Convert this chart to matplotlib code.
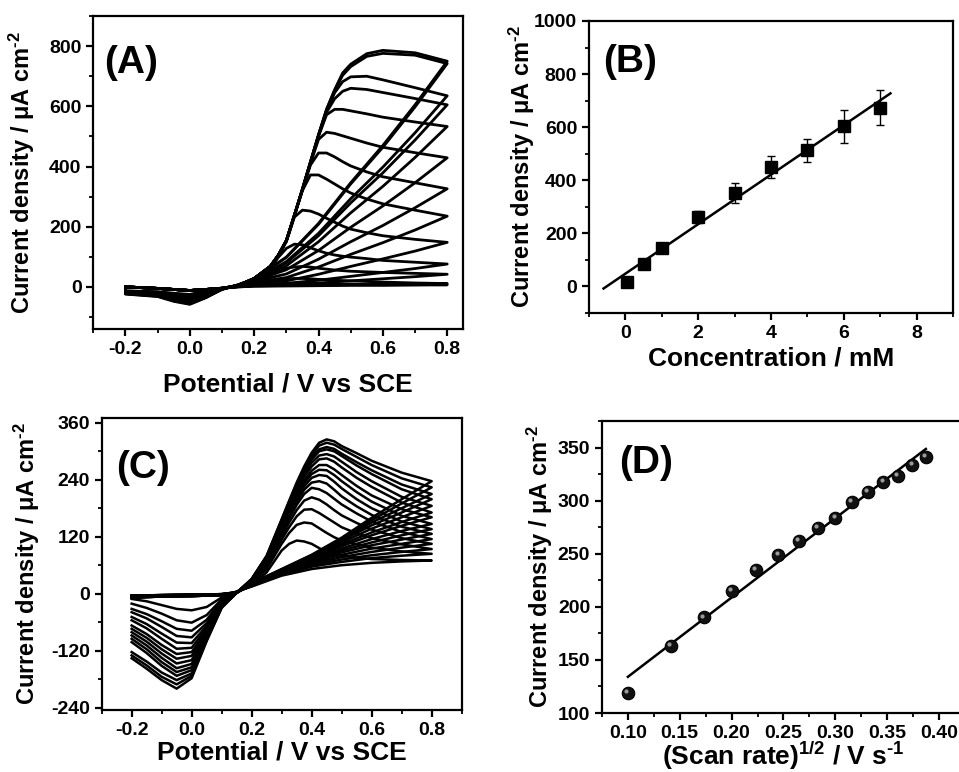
import numpy as np
import matplotlib
matplotlib.use('Agg')
import matplotlib.pyplot as plt
from matplotlib.ticker import MultipleLocator, FormatStrFormatter
from matplotlib.transforms import offset_copy

plt.rcParams['font.family'] = ['Liberation Sans', 'DejaVu Sans']
plt.rcParams['font.weight'] = 'bold'
plt.rcParams['axes.labelweight'] = 'bold'
plt.rcParams['axes.unicode_minus'] = False
plt.rcParams['mathtext.fontset'] = 'custom'
plt.rcParams['mathtext.rm'] = 'Liberation Sans:bold'
plt.rcParams['mathtext.it'] = 'Liberation Sans:bold'
plt.rcParams['mathtext.default'] = 'rm'

# ---- (A) CVs for increasing concentration (uA cm-2) ----
pot_fwd_a = [-0.2, -0.1, 0.0, 0.1, 0.15, 0.2, 0.25, 0.275, 0.3, 0.325, 0.35, 0.375,
             0.4, 0.425, 0.45, 0.475, 0.5, 0.55, 0.6, 0.7, 0.8]
pot_rev_a = [0.8, 0.7, 0.6, 0.5, 0.4, 0.3, 0.2, 0.15, 0.1, 0.05, 0.0, -0.05, -0.1, -0.2]
fwd_a = [
    [0, -5, -12, -5, 1, 5, 8, 9, 10, 11, 11, 11, 10, 10, 9, 9, 9, 8, 8, 8, 7],
    [0, -5, -12, -5, 2, 10, 20, 24, 27, 28, 28, 27, 25, 24, 22, 21, 20, 18, 16, 13, 11],
    [0, -5, -12, -5, 3, 18, 42, 54, 62, 66, 68, 66, 62, 59, 56, 54, 52, 50, 48, 45, 42],
    [0, -5, -12, -5, 4, 24, 62, 98, 128, 142, 140, 130, 120, 112, 106, 102, 99, 94, 88, 82, 76],
    [0, -5, -12, -5, 4, 26, 66, 104, 150, 232, 255, 252, 242, 228, 215, 202, 192, 180, 170, 158, 148],
    [0, -5, -12, -5, 4, 27, 67, 105, 152, 236, 320, 372, 372, 358, 342, 326, 312, 292, 276, 255, 235],
    [0, -5, -12, -5, 5, 28, 68, 105, 153, 237, 322, 405, 445, 445, 432, 416, 402, 382, 366, 346, 326],
    [0, -5, -12, -5, 5, 28, 68, 105, 153, 238, 323, 410, 490, 514, 510, 502, 494, 478, 464, 446, 429],
    [0, -5, -12, -5, 5, 28, 68, 105, 154, 238, 324, 413, 500, 572, 590, 590, 585, 575, 564, 548, 533],
    [0, -5, -12, -5, 5, 28, 68, 105, 154, 238, 325, 415, 503, 580, 625, 650, 660, 656, 646, 626, 605],
    [0, -5, -12, -5, 5, 28, 68, 105, 154, 238, 325, 415, 505, 585, 645, 682, 698, 700, 688, 662, 635],
    [0, -5, -12, -5, 5, 28, 68, 105, 154, 238, 325, 415, 505, 590, 652, 703, 732, 766, 776, 770, 742],
    [0, -5, -12, -5, 5, 28, 68, 105, 154, 238, 325, 415, 505, 590, 655, 711, 740, 775, 786, 778, 750],
]
rev_a = [
    [7, 6, 5, 5, 4, 3, 2, 0, -3, -13, -25, -21, -16, -13],
    [11, 9, 8, 7, 6, 5, 3, 0, -4, -15, -27, -23, -17, -14],
    [42, 34, 27, 20, 13, 8, 5, 1, -4, -18, -30, -26, -19, -15],
    [76, 61, 48, 35, 22, 12, 8, 2, -5, -20, -34, -29, -21, -16],
    [148, 119, 93, 68, 42, 20, 12, 3, -5, -23, -38, -32, -23, -17],
    [235, 189, 147, 108, 66, 31, 15, 4, -6, -25, -42, -35, -25, -18],
    [326, 263, 204, 150, 92, 43, 18, 4, -6, -27, -44, -37, -26, -19],
    [429, 346, 269, 198, 121, 57, 20, 5, -7, -29, -46, -39, -27, -20],
    [533, 430, 334, 246, 150, 70, 22, 5, -7, -30, -48, -40, -28, -21],
    [605, 488, 379, 279, 170, 80, 23, 6, -8, -32, -50, -42, -29, -22],
    [635, 512, 398, 293, 178, 84, 24, 6, -8, -33, -52, -44, -30, -22],
    [742, 598, 464, 342, 208, 98, 26, 7, -8, -35, -56, -46, -31, -23],
    [750, 605, 470, 346, 211, 99, 26, 7, -8, -36, -58, -48, -32, -24],
]

# ---- (B) calibration ----
conc_mm = [0.05, 0.5, 1, 2, 3, 4, 5, 6, 7]
j_conc = [16, 85, 144, 261, 352, 450, 513, 603, 673]
j_conc_err = [15, 10, 12, 22, 39, 41, 43, 61, 66]

# ---- (C) CVs at scan rates 10-150 mV/s ----
pot_fwd_c = [-0.2, -0.1, 0.0, 0.1, 0.15, 0.2, 0.25, 0.3, 0.325, 0.35, 0.375, 0.4,
             0.425, 0.45, 0.475, 0.5, 0.55, 0.6, 0.7, 0.8]
pot_rev_c = [0.8, 0.7, 0.6, 0.5, 0.4, 0.3, 0.2, 0.15, 0.1, 0.05, 0.0, -0.05, -0.1, -0.15, -0.2]
fwd_c = [
    [-4, -3, -2, -1, 3, 17, 45, 91, 105, 112, 110, 105, 96, 88, 83, 80, 76, 73, 71, 70],
    [-4, -3, -2, -1, 3, 20, 52, 105, 128, 145, 150, 148, 138, 128, 119, 112, 104, 97, 89, 84],
    [-4, -3, -2, -1, 3, 22, 57, 114, 140, 163, 177, 178, 170, 160, 150, 140, 127, 117, 104, 94],
    [-4, -3, -2, -1, 3, 23, 61, 121, 150, 176, 196, 203, 198, 188, 176, 165, 149, 135, 117, 105],
    [-4, -3, -2, -1, 3, 24, 64, 127, 158, 187, 210, 223, 220, 212, 200, 188, 169, 152, 130, 115],
    [-6, -4, -3, -2, 2, 25, 66, 131, 163, 194, 219, 234, 237, 232, 219, 205, 184, 166, 141, 126],
    [-6, -4, -3, -2, 2, 26, 68, 135, 168, 201, 226, 244, 250, 248, 236, 222, 199, 180, 152, 136],
    [-6, -4, -3, -2, 2, 27, 70, 139, 173, 207, 233, 252, 261, 260, 250, 237, 214, 194, 164, 147],
    [-6, -4, -3, -2, 2, 28, 72, 142, 177, 212, 238, 259, 271, 271, 262, 250, 227, 207, 178, 161],
    [-6, -4, -3, -2, 2, 28, 74, 146, 182, 218, 246, 268, 283, 285, 278, 266, 244, 225, 192, 171],
    [-8, -6, -5, -3, 2, 29, 76, 149, 186, 222, 251, 276, 291, 294, 289, 278, 256, 237, 204, 185],
    [-8, -6, -5, -3, 2, 30, 77, 152, 189, 226, 257, 283, 300, 304, 300, 290, 270, 252, 220, 199],
    [-8, -6, -5, -3, 2, 30, 78, 153, 191, 228, 260, 287, 304, 309, 305, 295, 277, 260, 230, 210],
    [-8, -6, -5, -3, 2, 31, 79, 155, 193, 231, 264, 292, 312, 318, 314, 305, 288, 271, 243, 224],
    [-8, -6, -5, -3, 2, 31, 80, 157, 196, 234, 268, 297, 318, 325, 321, 311, 296, 280, 255, 237],
]
rev_c = [
    [70, 68, 65, 60, 52, 38, 15, 5, -8, -28, -35, -32, -24, -16, -11],
    [84, 80, 75, 67, 57, 40, 16, 4, -12, -45, -61, -56, -42, -30, -21],
    [94, 88, 81, 72, 60, 42, 17, 4, -14, -55, -78, -74, -58, -43, -32],
    [105, 97, 88, 77, 63, 43, 17, 4, -16, -62, -92, -89, -70, -52, -39],
    [115, 105, 95, 82, 66, 44, 18, 3, -18, -68, -104, -103, -84, -64, -49],
    [126, 114, 102, 87, 68, 45, 18, 3, -19, -73, -114, -116, -95, -73, -56],
    [136, 123, 108, 91, 70, 46, 19, 3, -21, -78, -123, -127, -108, -85, -67],
    [147, 132, 115, 95, 72, 47, 19, 3, -22, -82, -131, -137, -117, -93, -74],
    [161, 143, 123, 100, 74, 48, 20, 3, -24, -86, -140, -147, -126, -101, -81],
    [171, 151, 129, 104, 76, 49, 20, 2, -25, -89, -148, -157, -135, -109, -88],
    [185, 161, 137, 108, 78, 50, 20, 2, -26, -92, -155, -165, -144, -117, -95],
    [199, 171, 144, 112, 79, 50, 21, 2, -27, -94, -161, -173, -152, -125, -102],
    [210, 180, 150, 114, 80, 51, 21, 2, -28, -96, -168, -182, -166, -143, -123],
    [224, 190, 155, 116, 81, 51, 22, 2, -29, -98, -173, -191, -175, -151, -130],
    [237, 199, 160, 118, 82, 52, 22, 2, -30, -100, -178, -200, -182, -158, -136],
]

# ---- (D) peak current vs sqrt(scan rate) ----
scan_rate = [0.01, 0.02, 0.03, 0.04, 0.05, 0.06, 0.07, 0.08, 0.09, 0.10, 0.11, 0.12, 0.13, 0.14, 0.15]
j_peak = [119, 163, 190, 215, 235, 249, 262, 274, 284, 299, 308, 318, 323, 334, 341]

YLABEL = r'Current density / μA cm$^{\text{-2}}$'
LABEL_FS = 19
YLABEL_FS = 17
PANEL_FS = 28


def style_axes(ax):
    for s in ax.spines.values():
        s.set_linewidth(1.6)
    ax.tick_params(which='both', direction='out', top=False, right=False, labelsize=14)
    ax.tick_params(which='major', length=5, width=1.6)
    ax.tick_params(which='minor', length=3, width=1.3)


def draw_cv(ax, pf, fwd, pr, rev, lw, closed=True):
    for f, r in zip(fwd, rev):
        x = list(pf) + list(pr)
        y = list(f) + list(r)
        if closed:
            x.append(pf[0])
            y.append(f[0])
        ax.plot(x, y, color='black', lw=lw, solid_joinstyle='round')


fig = plt.figure(figsize=(9.59, 7.72), dpi=100)
ax_a = fig.add_axes([0.0973, 0.5738, 0.3858, 0.4054])
ax_b = fig.add_axes([0.6142, 0.5946, 0.3796, 0.3782])
ax_c = fig.add_axes([0.1060, 0.0803, 0.3754, 0.3782])
ax_d = fig.add_axes([0.6277, 0.0764, 0.3785, 0.3782])

# (A)
draw_cv(ax_a, pot_fwd_a, fwd_a, pot_rev_a, rev_a, 2.0)
ax_a.set_xlim(-0.3, 0.85)
ax_a.set_ylim(-140, 900)
ax_a.xaxis.set_minor_locator(MultipleLocator(0.1))
ax_a.yaxis.set_minor_locator(MultipleLocator(100))
ax_a.set_xticks([-0.2, 0.0, 0.2, 0.4, 0.6, 0.8])
ax_a.set_xticklabels(['-0.2', '0.0', '0.2', '0.4', '0.6', '0.8'])
ax_a.set_yticks([0, 200, 400, 600, 800])
ax_a.set_xlabel('Potential / V vs SCE', fontsize=LABEL_FS)
ax_a.set_ylabel(YLABEL, fontsize=YLABEL_FS)
ax_a.xaxis.set_label_coords(0.526, -0.14)
ax_a.yaxis.set_label_coords(-0.151, 0.5)
ax_a.text(0.03, 0.85, '(A)', transform=ax_a.transAxes, fontsize=PANEL_FS, va='center')
style_axes(ax_a)

# (B)
ax_b.errorbar(conc_mm, j_conc, yerr=j_conc_err, fmt='s', color='black', ms=9,
              ecolor='black', elinewidth=1, capsize=3, capthick=1)
slope, icpt = np.polyfit(conc_mm, j_conc, 1)
xf = np.array([min(conc_mm) - 0.65, max(conc_mm) + 0.28])
ax_b.plot(xf, icpt + slope * xf, color='black', lw=1.8)
ax_b.set_xlim(-1, 9)
ax_b.set_ylim(-100, 1000)
ax_b.xaxis.set_major_locator(MultipleLocator(2))
ax_b.xaxis.set_minor_locator(MultipleLocator(1))
ax_b.yaxis.set_major_locator(MultipleLocator(200))
ax_b.yaxis.set_minor_locator(MultipleLocator(100))
ax_b.set_xlabel('Concentration / mM', fontsize=LABEL_FS)
ax_b.set_ylabel(YLABEL, fontsize=YLABEL_FS)
ax_b.xaxis.set_label_coords(0.5, -0.116)
ax_b.yaxis.set_label_coords(-0.143, 0.5)
ax_b.text(0.04, 0.86, '(B)', transform=ax_b.transAxes, fontsize=PANEL_FS, va='center')
style_axes(ax_b)

# (C)
draw_cv(ax_c, pot_fwd_c, fwd_c, pot_rev_c, rev_c, 1.8, closed=False)
ax_c.set_xlim(-0.3, 0.9)
ax_c.set_ylim(-245, 370)
ax_c.xaxis.set_minor_locator(MultipleLocator(0.1))
ax_c.set_xticks([-0.2, 0.0, 0.2, 0.4, 0.6, 0.8])
ax_c.set_xticklabels(['-0.2', '0.0', '0.2', '0.4', '0.6', '0.8'])
ax_c.yaxis.set_major_locator(MultipleLocator(120))
ax_c.yaxis.set_minor_locator(MultipleLocator(60))
ax_c.set_xlabel('Potential / V vs SCE', fontsize=LABEL_FS)
ax_c.set_ylabel(YLABEL, fontsize=YLABEL_FS)
ax_c.xaxis.set_label_coords(0.5, -0.103)
ax_c.yaxis.set_label_coords(-0.167, 0.5)
ax_c.text(0.04, 0.83, '(C)', transform=ax_c.transAxes, fontsize=PANEL_FS, va='center')
style_axes(ax_c)

# (D)
sqrt_v = np.sqrt(scan_rate)
k, b = np.polyfit(sqrt_v, j_peak, 1)
xl = np.array([sqrt_v.min(), sqrt_v.max()])
ax_d.plot(xl, b + k * xl, color='black', lw=1.8)
ax_d.plot(sqrt_v, j_peak, 'o', color='#111111', ms=9, mec='black', mew=0.8)
hl = offset_copy(ax_d.transData, fig=fig, x=-1.2, y=1.4, units='points')
ax_d.plot(sqrt_v, j_peak, 'o', color='#9a9a9a', ms=3, mew=0, transform=hl)
ax_d.set_xlim(0.075, 0.425)
ax_d.set_ylim(100, 375)
ax_d.xaxis.set_major_locator(MultipleLocator(0.05))
ax_d.xaxis.set_minor_locator(MultipleLocator(0.025))
ax_d.yaxis.set_major_locator(MultipleLocator(50))
ax_d.yaxis.set_minor_locator(MultipleLocator(25))
ax_d.xaxis.set_major_formatter(FormatStrFormatter('%.2f'))
ax_d.set_xlabel(r'(Scan rate)$^{\text{1/2}}$ / V s$^{\text{-1}}$', fontsize=LABEL_FS)
ax_d.set_ylabel(YLABEL, fontsize=YLABEL_FS)
ax_d.xaxis.set_label_coords(0.5, -0.092)
ax_d.yaxis.set_label_coords(-0.13, 0.5)
ax_d.text(0.047, 0.855, '(D)', transform=ax_d.transAxes, fontsize=PANEL_FS, va='center')
style_axes(ax_d)

fig.savefig('out.png', dpi=100)
